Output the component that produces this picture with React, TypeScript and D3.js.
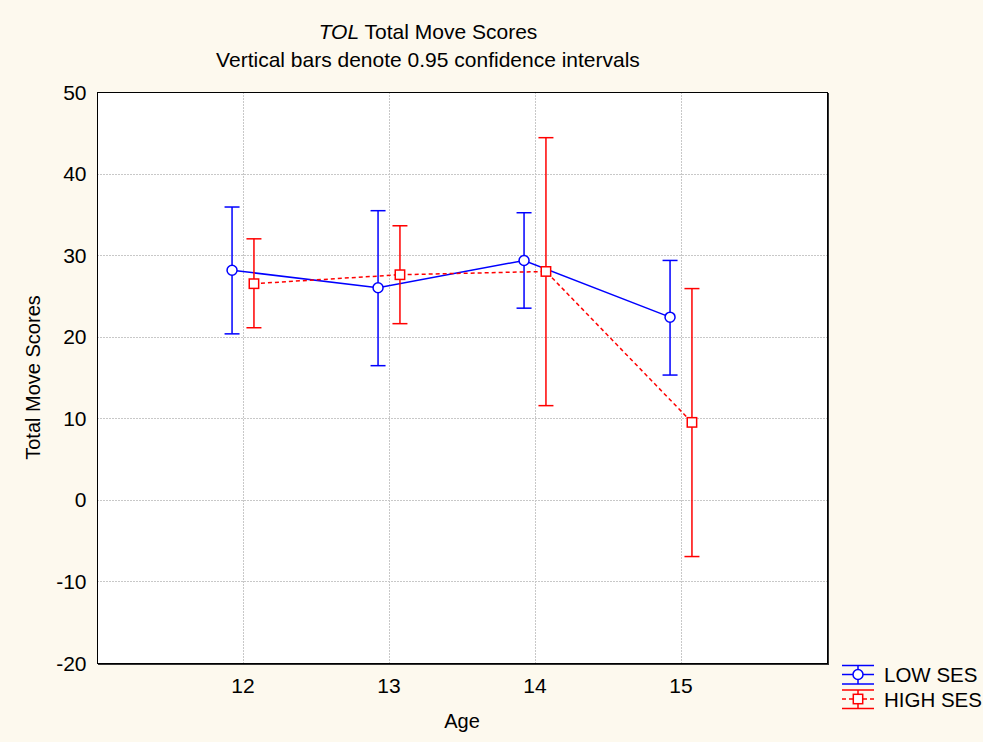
import React from "react";
import * as d3 from "d3";

const W = 983;
const H = 742;

const ages = [12, 13, 14, 15];
const lowMean = [28.15, 26.0, 29.35, 22.4];
const lowUpper = [35.9, 35.45, 35.2, 29.35];
const lowLower = [20.35, 16.45, 23.5, 15.3];
const highMean = [26.5, 27.6, 28.0, 9.5];
const highUpper = [32.0, 33.6, 44.4, 25.9];
const highLower = [21.1, 21.6, 11.55, -6.95];
const yTicks = [-20, -10, 0, 10, 20, 30, 40, 50];

const M = { left: 97, right: 827, top: 92, bottom: 663 };
const FONT = "'Liberation Sans', Arial, sans-serif";
const BLUE = "#0000ff";
const RED = "#ff0000";

export default function App() {
  const x = d3.scaleLinear().domain([11, 16]).range([M.left, M.right]);
  const y = d3.scaleLinear().domain([-20, 50]).range([M.bottom, M.top]);
  const off = 0.075;
  const cap = 7.5;

  const series = [
    { key: "low", label: "LOW SES", color: BLUE, dash: null, shift: -off, mean: lowMean, up: lowUpper, lo: lowLower, marker: "circle" },
    { key: "high", label: "HIGH SES", color: RED, dash: "4 3", shift: off, mean: highMean, up: highUpper, lo: highLower, marker: "square" },
  ];

  return (
    <svg width={W} height={H} style={{ position: "absolute", left: 0, top: 0, background: "#fdf9ee" }} fontFamily={FONT}>
      <rect x={0} y={0} width={W} height={H} fill="#fdf9ee" />
      <rect x={M.left} y={M.top} width={M.right - M.left} height={M.bottom - M.top} fill="#ffffff" />
      {/* grid */}
      <g stroke="#c8c8c8" strokeWidth={1} strokeDasharray="1.5 1.5" shapeRendering="crispEdges">
        {yTicks.filter((t) => t > -20 && t < 50).map((t) => (
          <line key={"gy" + t} x1={M.left} x2={M.right} y1={Math.round(y(t)) + 0.5} y2={Math.round(y(t)) + 0.5} />
        ))}
        {ages.map((a) => (
          <line key={"gx" + a} x1={Math.round(x(a)) + 0.5} x2={Math.round(x(a)) + 0.5} y1={M.top} y2={M.bottom} />
        ))}
      </g>
      {/* frame */}
      <g shapeRendering="crispEdges">
        <rect x={M.left + 0.5} y={M.top + 0.5} width={M.right - M.left} height={M.bottom - M.top} fill="none" stroke="#000" strokeWidth={1} />
        <line x1={M.left + 1} x2={M.right + 2} y1={M.bottom + 1.5} y2={M.bottom + 1.5} stroke="#333" strokeWidth={1} />
        <line x1={M.right + 1.5} x2={M.right + 1.5} y1={M.top + 1} y2={M.bottom + 2} stroke="#333" strokeWidth={1} />
      </g>

      {/* series */}
      {series.map((s) => {
        const xs = (i: number) => x(ages[i] + s.shift);
        const path = d3.line<number>().x((_, i) => xs(i)).y((d) => y(d))(s.mean) || "";
        return (
          <g key={s.key}>
            <path d={path} fill="none" stroke={s.color} strokeWidth={1.5} strokeDasharray={s.dash || undefined} />
            {s.mean.map((m, i) => (
              <g key={i} stroke={s.color} strokeWidth={1.5}>
                <line x1={xs(i)} x2={xs(i)} y1={y(s.up[i])} y2={y(s.lo[i])} />
                <line x1={xs(i) - cap} x2={xs(i) + cap} y1={y(s.up[i])} y2={y(s.up[i])} />
                <line x1={xs(i) - cap} x2={xs(i) + cap} y1={y(s.lo[i])} y2={y(s.lo[i])} />
                {s.marker === "circle" ? (
                  <circle cx={xs(i)} cy={y(m)} r={5} fill="#fff" />
                ) : (
                  <rect x={xs(i) - 4.7} y={y(m) - 4.7} width={9.4} height={9.4} fill="#fff" />
                )}
              </g>
            ))}
          </g>
        );
      })}

      {/* axes text */}
      {yTicks.map((t) => (
        <text key={"ty" + t} x={86.5} y={y(t) + 7.5} textAnchor="end" fontSize={21} fill="#000">{t}</text>
      ))}
      {ages.map((a) => (
        <text key={"tx" + a} x={x(a)} y={693} textAnchor="middle" fontSize={21} fill="#000">{a}</text>
      ))}
      <text x={(M.left + M.right) / 2} y={728} textAnchor="middle" fontSize={20}>Age</text>
      <text transform={`translate(40,${(M.top + M.bottom) / 2}) rotate(-90)`} textAnchor="middle" fontSize={20}>Total Move Scores</text>

      {/* titles */}
      <text x={428} y={39} textAnchor="middle" fontSize={21}>
        <tspan fontStyle="italic">TOL</tspan> Total Move Scores
      </text>
      <text x={428} y={66.5} textAnchor="middle" fontSize={21}>Vertical bars denote 0.95 confidence intervals</text>

      {/* legend */}
      {series.map((s, k) => {
        const cy = 674.5 + k * 24.5;
        const lx1 = 842, lx2 = 874, cx = 858;
        return (
          <g key={"lg" + s.key}>
            <g stroke={s.color} strokeWidth={1.5}>
              <line x1={lx1} x2={lx2} y1={cy - 9} y2={cy - 9} />
              <line x1={lx1} x2={lx2} y1={cy + 9.5} y2={cy + 9.5} />
              <line x1={cx} x2={cx} y1={cy - 9} y2={cy + 9.5} />
              <line x1={lx1} x2={lx2} y1={cy} y2={cy} strokeDasharray={s.dash || undefined} />
              {s.marker === "circle" ? (
                <circle cx={cx} cy={cy} r={5} fill="#fff" />
              ) : (
                <rect x={cx - 4.7} y={cy - 4.7} width={9.4} height={9.4} fill="#fff" />
              )}
            </g>
            <text x={884} y={cy + 7.5} fontSize={20.5} fill="#000">{s.label}</text>
          </g>
        );
      })}
    </svg>
  );
}
